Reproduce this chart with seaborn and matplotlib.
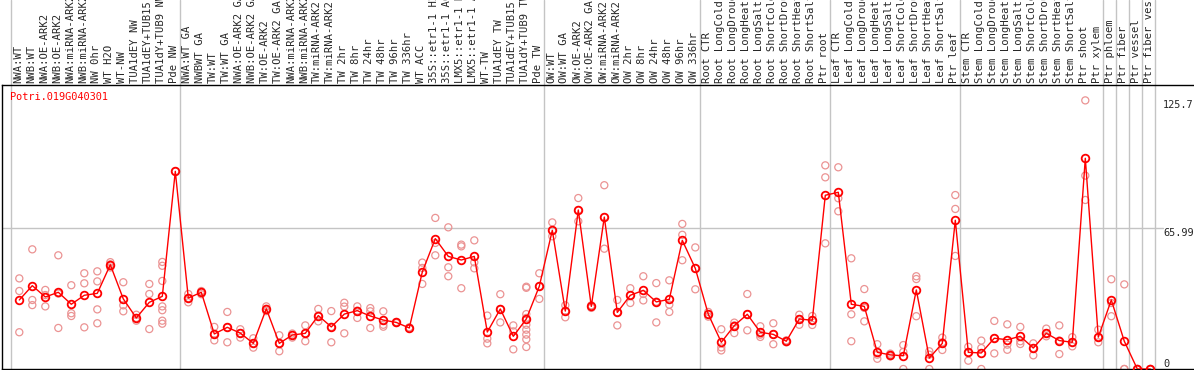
import numpy as np
import pandas as pd
import seaborn as sns
import matplotlib.pyplot as plt
import matplotlib.transforms as mtransforms

gene = "Potri.019G040301"

labels = [
    "NWA:WT", "NWB:WT", "NWA:OE-ARK2", "NWB:OE-ARK2", "NWA:miRNA-ARK2", "NWB:miRNA-ARK2",
    "NW 0hr", "WT H2O", "WT-NW", "TUA1dEY NW", "TUA1dEY+TUB15", "TUA1dY+TUB9 NW", "Pde NW",
    "NWA:WT GA", "NWBWT GA", "TW:WT", "TW:WT GA", "NWA:OE-ARK2 GA", "NWB:OE-ARK2 GA",
    "TW:OE-ARK2", "TW:OE-ARK2 GA", "NWA:miRNA-ARK2", "NWB:miRNA-ARK2", "TW:miRNA-ARK2",
    "TW:miRNA-ARK2", "TW 2hr", "TW 8hr", "TW 24hr", "TW 48hr", "TW 96hr", "TW 336hr",
    "WT ACC", "35S::etr1-1 H2", "35S::etr1-1 AC", "LMX5::etr1-1 H", "LMX5::etr1-1 A",
    "WT-TW", "TUA1dEY TW", "TUA1dEY+TUB15", "TUA1dY+TUB9 TW", "Pde TW",
    "OW:WT", "OW:WT GA", "OW:OE-ARK2", "OW:OE-ARK2 GA", "OW:miRNA-ARK2", "OW:miRNA-ARK2",
    "OW 2hr", "OW 8hr", "OW 24hr", "OW 48hr", "OW 96hr", "OW 336hr",
    "Root CTR", "Root LongCold", "Root LongDroug", "Root LongHeat", "Root LongSalt",
    "Root ShortCold", "Root ShortDrou", "Root ShortHeat", "Root ShortSalt", "Ptr root",
    "Leaf CTR", "Leaf LongCold", "Leaf LongDroug", "Leaf LongHeat", "Leaf LongSalt",
    "Leaf ShortCold", "Leaf ShortDrou", "Leaf ShortHeat", "Leaf ShortSalt", "Ptr leaf",
    "Stem CTR", "Stem LongCold", "Stem LongDroug", "Stem LongHeat", "Stem LongSalt",
    "Stem ShortCold", "Stem ShortDrou", "Stem ShortHeat", "Stem ShortSalt", "Ptr shoot",
    "Ptr xylem", "Ptr phloem", "Ptr fiber", "Ptr vessel", "Ptr fiber vess",
]

# mean expression per sample (red line)
means = [
    32.3, 39.0, 33.7, 35.9, 30.3, 34.5, 35.4, 48.8, 32.8, 23.9, 31.2, 34.0, 92.5,
    33.2, 35.9, 16.4, 19.5, 16.8, 12.0, 28.2, 12.0, 15.9, 16.7, 25.0, 19.7, 25.7, 27.3,
    24.8, 22.9, 21.8, 19.2, 45.4, 61.0, 52.7, 51.0, 52.7, 17.3, 28.1, 15.3, 23.4, 38.7,
    64.9, 27.1, 74.4, 29.3, 71.1, 26.5, 34.5, 36.8, 31.4, 32.6, 60.2, 47.1,
    25.6, 12.5, 20.3, 25.6, 17.2, 16.2, 13.0, 23.4, 22.8, 81.3,
    82.7, 30.3, 29.3, 7.8, 6.6, 6.2, 37.0, 5.1, 12.0, 69.6,
    7.8, 7.5, 14.4, 13.7, 15.3, 9.8, 16.7, 13.3, 12.5, 98.6, 14.9,
    32.3, 13.0, 0.0, 0.0,
]

# individual replicates (light circles)
reps = [
    [42.4, 36.5, 17.2], [56.0, 32.3, 29.9], [37.0, 34.6, 29.3], [53.2, 35.3, 19.2],
    [39.2, 26.1, 24.8], [44.8, 40.1, 19.5], [45.7, 41.0, 27.9, 21.4], [50.0, 49.0, 47.5],
    [40.6, 29.8, 27.0], [25.4, 23.9, 22.6], [39.8, 35.1, 18.7],
    [50.1, 48.3, 41.2, 29.3, 27.5, 22.6, 21.2], [92.5],
    [35.1, 33.2, 31.2], [36.5, 35.9, 35.0], [19.7, 16.4, 13.4], [26.7, 19.5, 12.5],
    [18.6, 16.8, 14.7], [14.4, 12.0, 10.0], [29.3, 28.2, 27.1], [15.8, 12.0, 8.3],
    [16.6, 15.9, 14.7], [20.4, 16.7, 13.0], [28.1, 25.0, 22.3], [27.1, 19.7, 12.5],
    [31.0, 29.2, 16.7], [29.3, 27.3, 23.9], [28.5, 27.0, 19.2], [27.0, 20.7, 19.8],
    [22.0, 21.8, 21.5], [19.5, 19.2, 18.9], [49.8, 47.3, 39.8], [70.7, 59.0, 53.2],
    [66.3, 47.6, 43.4], [58.2, 57.4, 37.8], [60.2, 49.9, 47.1], [25.0, 14.2, 12.0],
    [35.0, 28.1, 21.8], [20.4, 17.6, 9.2],
    [38.5, 38.0, 25.7, 23.9, 20.7, 18.4, 16.1, 13.9, 10.3], [44.8, 38.7, 32.8],
    [68.6, 64.9, 62.1], [29.8, 27.1, 24.2], [80.0, 74.4, 69.1], [29.8, 29.3, 28.6],
    [86.0, 71.1, 56.3], [32.3, 26.5, 20.4], [37.8, 34.5, 30.9], [43.4, 35.1, 32.1],
    [40.2, 31.5, 21.8], [41.5, 30.1, 26.7], [67.9, 62.8, 50.9], [56.9, 47.1, 37.3],
    [26.7, 25.6, 24.5], [18.6, 10.1, 8.7], [21.7, 20.4, 16.8], [35.1, 25.6, 18.1],
    [20.0, 16.1, 15.0], [21.4, 16.2, 11.6], [13.4, 13.0, 12.5], [25.4, 23.4, 20.7],
    [24.8, 22.8, 20.6], [95.3, 89.7, 58.8],
    [94.4, 79.9, 73.8], [51.8, 25.6, 13.0], [37.4, 28.6, 22.3], [11.6, 6.7, 4.8],
    [7.2, 6.6, 5.9], [11.2, 8.0, 0.0], [43.4, 42.1, 24.7], [8.3, 6.7, 0.0],
    [14.7, 12.5, 8.9], [81.4, 74.9, 52.9],
    [10.4, 7.8, 3.9], [13.3, 9.8, 0.0], [22.5, 14.4, 7.3], [20.9, 11.4, 9.0],
    [19.7, 13.0, 11.7], [12.0, 9.8, 6.4], [18.9, 16.7, 15.3], [20.4, 13.3, 7.0],
    [14.9, 12.5, 10.6], [125.7, 90.5, 79.1], [18.4, 14.9, 12.5],
    [42.0, 30.9, 24.7], [39.6, 0.0, 0.0], [0.0, 0.0, 0.0], [0.0, 0.0, 0.0],
]

# first sample of each experiment block
group_starts = [0, 13, 41, 53, 63, 73, 84, 85, 86, 87]
yticks = [125.7, 65.99, 0]

pos = np.arange(len(labels))
rep_df = pd.DataFrame({
    "pos": np.repeat(pos, [len(r) for r in reps]),
    "value": np.concatenate(reps),
})
mean_df = pd.DataFrame({"pos": pos, "value": means})

sns.set_style("white")
plt.rcParams["font.family"] = ["DejaVu Sans Mono"]

fig = plt.figure(figsize=(11.94, 3.70), dpi=100)
ax = fig.add_axes([1.5 / 1194, 1 / 370, 1192.5 / 1194, 284 / 370])

grey = "#c4c4c4"
ax.axhline(yticks[1], xmax=(1163 - 1.5) / 1192.5, color=grey, lw=1, zorder=0)
for x in [s - 0.62 for s in group_starts] + [len(labels) - 0.64]:
    ax.axvline(x, ymin=0, ymax=369 / 284, clip_on=False, color=grey, lw=1, zorder=0)

sns.scatterplot(data=rep_df, x="pos", y="value", ax=ax, marker="o", s=26,
                facecolors="none", edgecolor="#eb9393", linewidth=0.9, zorder=2)
sns.lineplot(data=mean_df, x="pos", y="value", ax=ax, color="red", lw=1.0,
             marker="o", markersize=5.5, markerfacecolor="none",
             markeredgecolor="red", markeredgewidth=1.3, zorder=3)

ax.set_xlim((1.5 - 19.3) / 13, (1194 - 19.3) / 13)
ax.set_ylim(0, 132.9)
ax.set_xticks([])
ax.set_yticks([])
ax.set(xlabel="", ylabel="")
for side in ["left", "bottom", "top"]:
    ax.spines[side].set_color("black")
    ax.spines[side].set_linewidth(1.0)
ax.spines["right"].set_visible(False)

# sample names, rotated above the plot
trans = mtransforms.blended_transform_factory(ax.transData, ax.transAxes)
for i, lab in enumerate(labels):
    ax.text(i - 0.1, 1.007, lab, rotation=90, ha="center", va="bottom",
            fontsize=7.6, transform=trans, clip_on=False)

ax.text(0.0071, 0.958, gene, transform=ax.transAxes, color="red",
        fontsize=7.4, ha="left", va="center")

ax.text(88.0, yticks[0], "125.7", ha="left", va="top", fontsize=7.4)
ax.text(88.0, yticks[1], "65.99", ha="left", va="top", fontsize=7.4)
ax.text(88.0, yticks[2], "0", ha="left", va="bottom", fontsize=7.4)

fig.savefig("out.png", dpi=100)
